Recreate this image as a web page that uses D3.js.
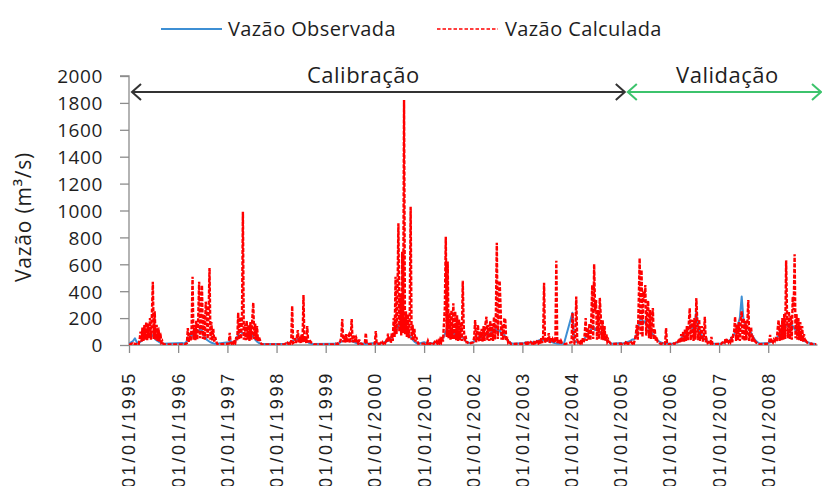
<!DOCTYPE html>
<html><head><meta charset="utf-8">
<script src="https://cdn.jsdelivr.net/npm/d3@7"></script>
<style>body{margin:0;background:#fff}svg{display:block}</style>
</head><body>
<svg id="c" width="822" height="486"></svg>
<script>
// ---------- data ----------
const seriesNames = ["Vazão Observada", "Vazão Calculada"];
const yTicks = [0, 200, 400, 600, 800, 1000, 1200, 1400, 1600, 1800, 2000];
const tickYears = [1995, 1996, 1997, 1998, 1999, 2000, 2001, 2002, 2003, 2004, 2005, 2006, 2007, 2008];
const periodLabels = ["Calibração", "Validação"];
const periodStart = ["1995-01-01", "2005-01-01"];
const periodEnd = ["2005-01-01", "2009-01-01"];

// wet-season blocks: calculated flow read weekly (m³/s)
const calcStart = ["1995-01-03","1996-01-31","1997-01-11","1998-03-02","1999-03-02","2000-01-01","2001-01-01",
                   "2002-01-01","2003-01-15","2004-01-01","2005-01-01","2006-01-01","2007-01-01","2008-01-01"];
const calc1995 = [10,5,8,12,5,10,5,8,3,10,5,40,100,25,130,30,150,40,170,35,160,50,200,40,230,470,45,250,40,150,30,130,25,90,20,30,10,5];
const calc1996 = [5,3,8,5,10,15,125,20,90,30,130,508,40,150,35,180,40,200,470,50,210,445,45,230,40,322,250,45,220,572,40,170,30,120,25,60,30,10,5];
const calc1997 = [10,90,20,10,30,15,40,20,60,35,240,40,210,45,190,990,40,160,35,180,40,150,30,170,40,200,315,45,160,35,140,30,60,40,15,5];
const calc1998 = [5,10,5,15,8,20,10,30,290,15,20,50,15,60,110,20,70,15,80,20,372,25,50,15,140,20,40,30,20,15,10,5];
const calc1999 = [5,8,10,5,12,8,15,30,60,193,20,70,15,80,20,60,75,15,55,193,20,45,70,15,50,30,10,40,15,10,8,5,10,15,90,10,5];
const calc2000 = [10,104,8,5,10,6,15,8,20,10,25,15,30,20,85,25,40,15,90,30,200,60,508,80,350,906,100,380,70,694,90,1822,80,250,60,230,50,210,1028,40,150,30,120,25,60,30,10];
const calc2001 = [10,8,15,10,30,10,8,12,6,15,8,20,10,25,12,30,15,40,20,60,25,150,280,805,60,620,50,240,40,260,45,310,40,250,35,220,30,190,35,170,30,478,140,25,70,20,20,10];
const calc2002 = [20,60,186,20,80,150,25,100,30,120,25,140,30,160,210,35,150,30,180,35,160,30,210,40,230,760,45,250,478,283,40,150,35,200,186,30,60,20,30,15,8];
const calc2003 = [10,15,8,30,10,15,8,20,12,25,10,30,15,20,35,15,40,10,50,15,60,463,15,55,20,45,88,15,50,20,40,15,55,20,627,15,30,45,10,30,15,10,5];
const calc2004 = [20,240,30,15,60,360,40,20,30,15,40,20,50,20,80,200,30,130,40,160,35,200,446,45,600,250,335,40,260,45,350,220,40,185,35,140,30,80,25,40,25,15,8];
const calc2005 = [10,8,12,6,10,15,30,10,8,15,10,20,12,30,15,40,80,150,40,320,645,80,558,60,400,350,446,70,250,330,50,260,45,180,275,40,120,30,60,25,25,15,10,8,12,6,10,8,126,10,5];
const calc2006 = [8,5,10,6,12,8,15,10,20,30,50,15,80,20,100,25,120,30,140,35,160,275,35,170,186,30,200,40,350,180,35,190,30,110,140,25,70,210,20,40,15,20,30,15,60,10,5];
const calc2007 = [8,10,6,15,20,30,20,50,15,30,20,40,25,60,20,80,100,210,30,150,35,170,30,190,250,35,200,30,180,35,160,335,30,110,130,25,70,20,30,20,15,10,5];
const calc2008 = [10,20,75,15,30,20,40,30,60,25,120,186,30,150,35,200,40,230,45,630,200,50,250,45,220,40,360,260,675,50,230,40,200,35,170,30,140,25,80,20,30,20,15,12,10,8,10,6,8,5,6,5];
const calcBlocks = [calc1995,calc1996,calc1997,calc1998,calc1999,calc2000,calc2001,calc2002,calc2003,calc2004,calc2005,calc2006,calc2007,calc2008];

// observed flow read fortnightly (m³/s)
const obsStart = ["1995-01-03","1996-01-31","1997-01-11","1998-03-02","1999-03-02","2000-01-01","2001-01-01",
                  "2002-01-01","2003-01-15","2004-01-08","2005-01-01","2006-01-01","2007-01-01","2008-01-01"];
const obs1995 = [10,20,30,50,20,15,25,35,50,60,70,80,75,60,40,30,20,15,10];
const obs1996 = [15,10,20,40,60,70,80,90,100,110,120,90,60,40,30,20,15,10,10];
const obs1997 = [20,30,15,20,40,80,100,90,80,70,90,100,80,60,40,25,15,10,8];
const obs1998 = [10,12,15,20,30,35,40,45,50,40,45,35,25,15,10,8];
const obs1999 = [10,10,12,15,25,30,35,30,35,30,25,20,15,10,10,12,10,8];
const obs2000 = [15,10,10,12,15,20,25,30,40,60,80,100,130,150,200,130,120,100,80,60,40,25,15,10];
const obs2001 = [20,15,12,15,12,15,20,18,25,30,50,80,120,100,90,110,80,90,70,80,60,50,30,20,15];
const obs2002 = [20,40,50,60,50,70,80,70,90,80,100,110,120,100,110,80,90,60,40,25,15,10];
const obs2003 = [15,20,15,18,20,22,25,30,35,40,35,40,35,30,25,20,15,12,10,10,12,8];
const obs2004 = [240,30,20,25,20,30,40,60,80,100,120,140,110,130,100,90,70,50,35,25,15,10];
const obs2005 = [15,12,15,20,25,30,40,40,60,120,180,200,160,180,140,120,100,80,60,40,30,20,15,12,15,10];
const obs2006 = [12,10,12,15,20,30,50,70,90,110,130,150,120,140,250,120,90,70,50,35,25,20,15,12];
const obs2007 = [10,12,15,20,25,30,40,60,80,120,150,200,360,180,150,130,110,90,60,40,25,15,12];
const obs2008 = [15,20,25,30,40,60,80,100,120,140,150,130,160,140,120,100,80,60,40,30,25,20,15,12,10,8];
const obsBlocks = [obs1995,obs1996,obs1997,obs1998,obs1999,obs2000,obs2001,obs2002,obs2003,obs2004,obs2005,obs2006,obs2007,obs2008];

// ---------- chart ----------
(function () {
const parse = d3.timeParse("%Y-%m-%d");
function buildSeries(starts, blocks, stepDays) {
  const pts = [];
  blocks.forEach((vals, b) => {
    const s = parse(starts[b]);
    vals.forEach((v, i) => pts.push({date: d3.timeDay.offset(s, i * stepDays), v}));
  });
  return pts;
}
const calcPts = buildSeries(calcStart, calcBlocks, 7);
const obsPts = buildSeries(obsStart, obsBlocks, 14);

const svg = d3.select("#c");
const W = 822;
const pL = 129, pR = 817.5, pT = 76, pB = 345;
const x = d3.scaleTime().domain([new Date(1995,0,1), new Date(2009,0,1)]).range([pL, pR]);
const y = d3.scaleLinear().domain([0, 2000]).range([pB, pT]);

const axisColor = "#8c8c8c";
const textColor = "#1e1e1e";
const font = "'Open Sans', sans-serif";

// y axis
const yAxis = svg.append("g").attr("transform", `translate(${pL},0)`)
  .call(d3.axisLeft(y).tickValues(yTicks).tickSize(9).tickPadding(17).tickFormat(d3.format("d")));
yAxis.select(".domain").attr("stroke", axisColor).attr("stroke-width", 1.3).attr("d", `M-9,${pT}H0V${pB}`);
yAxis.selectAll(".tick line").attr("stroke", axisColor).attr("stroke-width", 1.3);
yAxis.selectAll(".tick text").attr("font-family", font).attr("font-size", 19).attr("fill", textColor)
  .attr("letter-spacing", 0.6).attr("dy", "0.36em");

// x axis
const xAxis = svg.append("g").attr("transform", `translate(0,${pB})`)
  .call(d3.axisBottom(x).tickValues(tickYears.map(yr => new Date(yr,0,1))).tickSize(8).tickFormat(""));
xAxis.select(".domain").attr("stroke", axisColor).attr("stroke-width", 1.3).attr("d", `M${pL},0H${pR}`);
xAxis.selectAll(".tick line").attr("stroke", axisColor).attr("stroke-width", 1.3);

const fmt = d3.timeFormat("%d/%m/%Y");
svg.append("g").selectAll("text").data(tickYears).join("text")
  .attr("transform", d => `translate(${x(new Date(d,0,1))},371) rotate(-90)`)
  .attr("text-anchor", "end").attr("dy", "0.36em")
  .attr("font-family", "'Liberation Sans', Arial, sans-serif").attr("font-size", 18)
  .attr("letter-spacing", 2.7).attr("fill", textColor)
  .text(d => fmt(new Date(d,0,1)));

// y title
svg.append("text").attr("transform", "translate(23,217) rotate(-90)")
  .attr("text-anchor", "middle").attr("dy", "0.36em")
  .attr("font-family", font).attr("font-size", 21).attr("letter-spacing", 0.8).attr("fill", textColor)
  .text("Vazão (m³/s)");

// series
const line = d3.line().x(d => x(d.date)).y(d => y(d.v));
svg.append("clipPath").attr("id","pc").append("rect")
  .attr("x", pL).attr("y", 0).attr("width", pR - pL + 2).attr("height", pB);
svg.append("path").datum(obsPts).attr("d", line).attr("fill", "none")
  .attr("stroke", "#3d8fd4").attr("stroke-width", 2).attr("stroke-linejoin", "round").attr("clip-path","url(#pc)");
svg.append("path").datum(calcPts).attr("d", line).attr("fill", "none")
  .attr("stroke", "#ff0000").attr("stroke-width", 2.4).attr("stroke-dasharray", "4,1.6")
  .attr("clip-path","url(#pc)");

// period arrows
const arrowColors = ["#333333", "#3cc36c"];
const arrowY = 92;
const arrowOff = [[3, 4], [7, 4]];
const labelShift = [-15, 3];
periodLabels.forEach((lab, k) => {
  const x1 = x(parse(periodStart[k])) + arrowOff[k][0];
  const x2 = Math.min(x(parse(periodEnd[k])) + arrowOff[k][1], W - 1);
  const g = svg.append("g").attr("stroke", arrowColors[k]).attr("stroke-width", 2).attr("fill", "none");
  g.append("line").attr("x1", x1).attr("x2", x2).attr("y1", arrowY).attr("y2", arrowY);
  g.append("path").attr("d", `M${x1+9},${arrowY-8}L${x1},${arrowY}L${x1+9},${arrowY+8}`);
  g.append("path").attr("d", `M${x2-9},${arrowY-8}L${x2},${arrowY}L${x2-9},${arrowY+8}`);
  svg.append("text").attr("x", (x1 + x2) / 2 + labelShift[k]).attr("y", 83)
    .attr("text-anchor", "middle").attr("font-family", font).attr("font-size", 22)
    .attr("letter-spacing", 0.5).attr("fill", textColor).text(lab);
});

// legend
const leg = svg.append("g");
leg.append("line").attr("x1", 161).attr("x2", 222).attr("y1", 29).attr("y2", 29)
  .attr("stroke", "#3d8fd4").attr("stroke-width", 2);
leg.append("text").attr("x", 228).attr("y", 36).attr("font-family", font).attr("font-size", 20)
  .attr("letter-spacing", 0.4).attr("fill", textColor).text(seriesNames[0]);
leg.append("line").attr("x1", 437).attr("x2", 498).attr("y1", 29).attr("y2", 29)
  .attr("stroke", "#ff0000").attr("stroke-width", 1.6).attr("stroke-dasharray", "3.5,2");
leg.append("text").attr("x", 505).attr("y", 36).attr("font-family", font).attr("font-size", 20)
  .attr("letter-spacing", 0.4).attr("fill", textColor).text(seriesNames[1]);
})();
</script>
</body></html>
